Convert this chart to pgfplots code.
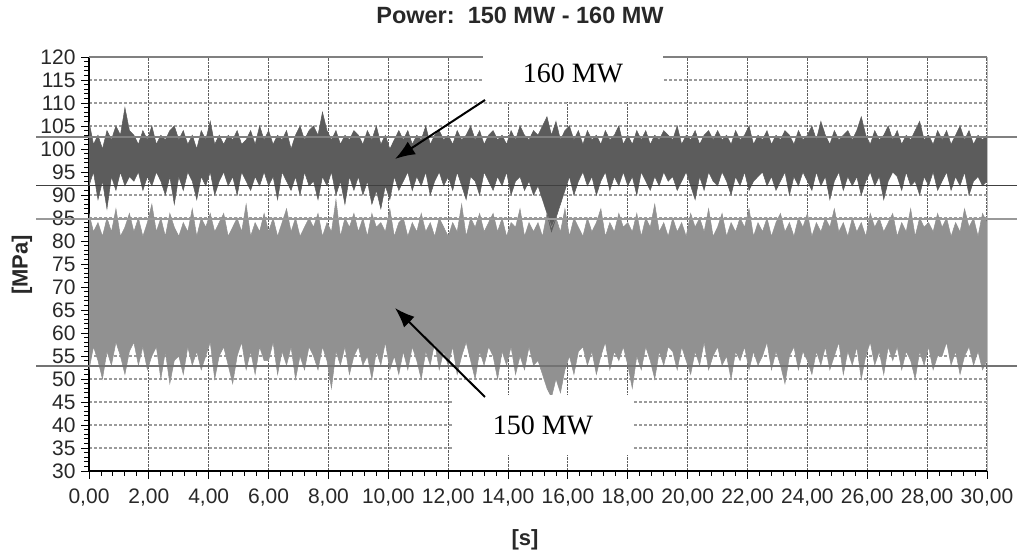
\documentclass[border=0pt]{standalone}
\usepackage{pgfplots}
\pgfplotsset{compat=1.18}
\usepackage{pgfplotstable}
\usepgfplotslibrary{fillbetween}
\usetikzlibrary{arrows.meta}
\usepackage{fontspec}
\setmainfont{Liberation Sans}
\newfontfamily\seriffont{Liberation Serif}
\definecolor{gA}{RGB}{145,145,145}
\definecolor{gB}{RGB}{92,92,92}
\definecolor{gridh}{RGB}{155,155,155}
\definecolor{gridv}{RGB}{95,95,95}
\definecolor{txt}{RGB}{40,40,40}

\pgfplotstableread{
t u1 l1 u2 l2
0.00 86 52 106 92
0.15 82 57 101 95
0.30 84 54 103 89
0.45 81 50 100 93
0.60 85 56 104 87
0.75 82 53 102 94
0.90 87 58 105 91
1.05 81 55 103 95
1.20 83 51 109 92
1.35 86 56 104 94
1.50 82 58 103 93
1.65 85 53 101 95
1.80 81 57 104 91
1.95 84 52 102 94
2.10 88 55 105 92
2.25 82 57 101 95
2.40 85 50 103 93
2.55 81 56 102 90
2.70 86 49 104 94
2.85 83 54 105 88
3.00 81 55 102 94
3.15 84 51 104 91
3.30 82 57 101 95
3.45 87 53 103 93
3.60 81 56 100 89
3.75 85 52 104 94
3.90 83 55 102 92
4.05 86 58 106 95
4.20 82 50 101 90
4.35 84 55 103 93
4.50 86 57 101 95
4.65 81 53 103 92
4.80 83 49 102 94
4.95 85 55 104 90
5.10 82 58 101 95
5.25 88 52 102 93
5.40 81 56 104 91
5.55 84 51 101 94
5.70 82 57 105 92
5.85 86 54 102 95
6.00 82 54 104 92
6.15 85 58 101 94
6.30 81 51 103 89
6.45 84 56 102 95
6.60 87 53 104 93
6.75 82 57 100 91
6.90 85 50 103 94
7.05 81 55 105 90
7.20 83 52 102 95
7.35 85 57 104 92
7.50 83 55 105 93
7.65 86 52 103 89
7.80 81 57 108 94
7.95 84 54 104 92
8.10 82 48 102 95
8.25 89 56 104 90
8.40 81 53 101 93
8.55 85 57 103 88
8.70 83 51 102 94
8.85 86 55 104 91
9.00 82 57 103 94
9.15 85 53 101 90
9.30 81 55 104 93
9.45 86 50 102 88
9.60 83 56 105 91
9.75 84 53 101 87
9.90 82 58 103 92
10.05 87 52 100 89
10.20 81 55 102 94
10.35 84 51 104 91
10.50 85 56 102 93
10.65 81 52 104 95
10.80 84 57 101 91
10.95 82 54 103 94
11.10 86 50 102 92
11.25 82 56 105 95
11.40 84 53 101 90
11.55 81 58 103 93
11.70 85 52 104 95
11.85 83 56 102 92
12.00 81 53 103 94
12.15 84 57 101 91
12.30 82 51 104 95
12.45 88 55 102 92
12.60 81 58 103 89
12.75 85 54 105 94
12.90 83 50 102 93
13.05 86 56 104 90
13.20 82 53 101 95
13.35 84 57 103 93
13.50 86 55 104 91
13.65 82 50 102 94
13.80 85 56 103 92
13.95 81 53 101 95
14.10 84 57 104 90
14.25 83 51 102 93
14.40 87 55 105 94
14.55 81 52 103 91
14.70 84 57 102 93
14.85 82 53 104 90
15.00 84 54 103 92
15.15 81 51 105 89
15.30 86 48 107 86
15.45 83 46 103 82
15.60 85 50 106 85
15.75 82 47 102 88
15.90 87 52 104 91
16.05 81 55 105 94
16.20 85 51 102 90
16.35 83 56 104 93
16.50 81 57 101 95
16.65 85 53 104 92
16.80 82 56 102 94
16.95 84 51 103 90
17.10 87 55 101 93
17.25 81 58 104 95
17.40 84 52 102 91
17.55 82 56 103 94
17.70 86 54 105 92
17.85 83 57 101 95
18.00 84 53 103 92
18.15 82 48 101 94
18.30 86 55 104 90
18.45 81 52 102 95
18.60 85 57 104 93
18.75 83 54 101 91
18.90 88 50 103 94
19.05 82 56 102 92
19.20 84 53 104 95
19.35 81 57 103 93
19.50 85 56 102 94
19.65 82 52 105 91
19.80 84 57 101 93
19.95 81 54 103 95
20.10 86 51 102 92
20.25 83 56 104 89
20.40 85 53 101 94
20.55 82 58 103 91
20.70 87 52 104 95
20.85 81 55 102 93
21.00 83 57 104 92
21.15 86 53 102 95
21.30 81 55 103 93
21.45 84 50 101 90
21.60 82 56 104 94
21.75 85 54 102 92
21.90 83 57 103 95
22.05 87 52 105 91
22.20 81 56 101 93
22.35 84 53 103 94
22.50 82 55 102 95
22.65 85 58 104 92
22.80 81 52 101 94
22.95 84 56 103 91
23.10 86 53 102 93
23.25 82 49 104 95
23.40 84 55 103 90
23.55 81 57 101 94
23.70 85 52 104 92
23.85 83 56 102 95
24.00 86 54 103 93
24.15 81 51 105 91
24.30 84 56 102 95
24.45 82 53 106 92
24.60 85 57 103 94
24.75 83 52 101 89
24.90 87 55 104 93
25.05 82 58 102 95
25.20 84 51 103 91
25.35 81 56 104 94
25.50 85 53 102 92
25.65 82 57 104 94
25.80 84 50 107 90
25.95 81 55 103 93
26.10 86 58 101 95
26.25 83 53 104 92
26.40 85 56 102 94
26.55 82 51 103 89
26.70 84 57 105 93
26.85 86 54 102 95
27.00 81 57 104 94
27.15 84 52 101 91
27.30 82 56 103 95
27.45 87 54 102 92
27.60 81 50 104 93
27.75 85 56 106 90
27.90 83 53 102 94
28.05 84 57 103 92
28.20 82 52 101 95
28.35 86 55 104 91
28.50 83 55 102 93
28.65 85 58 104 95
28.80 81 53 101 91
28.95 84 56 103 94
29.10 82 51 105 92
29.25 87 55 102 95
29.40 83 57 104 90
29.55 85 53 101 93
29.70 81 56 103 94
29.85 86 52 102 92
30.00 84 54 103 93
}\sig

\begin{document}
\begin{tikzpicture}
\begin{axis}[
  at={(89pt,85pt)}, anchor=south west,
  scale only axis, width=898pt, height=414pt,
  xmin=0, xmax=30, ymin=30, ymax=120,
  xtick={0,2,...,30}, ytick={30,35,...,120},
  minor x tick num=4, minor y tick num=4,
  axis x line*=bottom, axis y line*=left,
  axis line style={black, line width=1.1pt},
  tick align=outside,
  major tick length=8pt, minor tick length=5pt,
  tick style={black, line width=0.9pt},
  xmajorgrids, ymajorgrids,
  x grid style={gridv, densely dotted, line width=1.1pt},
  y grid style={gridh, densely dashed, line width=1.1pt},
  ticklabel style={font=\fontsize{21}{22}\selectfont, text=txt},
  y tick label style={xshift=-2pt},
  x tick label style={yshift=-6pt},
  /pgf/number format/assume math mode=true,
  x tick label style={/pgf/number format/fixed, /pgf/number format/fixed zerofill, /pgf/number format/precision=2, /pgf/number format/use comma},
  clip=false,
]
\addplot[name path=u1, draw=gA, line width=0.5pt] table[x=t,y=u1]{\sig};
\addplot[name path=l1, draw=gA, line width=0.5pt] table[x=t,y=l1]{\sig};
\addplot[fill=gA, draw=none] fill between[of=u1 and l1];
\addplot[name path=u2, draw=gB, line width=0.5pt] table[x=t,y=u2]{\sig};
\addplot[name path=l2, draw=gB, line width=0.5pt] table[x=t,y=l2]{\sig};
\addplot[fill=gB, draw=none] fill between[of=u2 and l2];
\draw[gray, line width=1.1pt] (axis cs:0,120) -- (axis cs:30,120);
\draw[black!25, line width=1pt] (axis cs:30,30) -- (axis cs:30,120);
\draw[black!50, line width=1.4pt] (axis cs:-1.77,102.6) -- (axis cs:31,102.6);
\draw[black!75, line width=1.4pt] (axis cs:-1.77,92) -- (axis cs:31,92);
\draw[black!40, line width=1.4pt] (axis cs:-1.77,84.8) -- (axis cs:31,84.8);
\draw[black!55, line width=1.4pt] (axis cs:-1.77,52.8) -- (axis cs:31,52.8);
\end{axis}
\fill[white] (483pt,454pt) rectangle (663pt,512pt);
\node[font=\seriffont\fontsize{28}{30}\selectfont] at (573pt,483pt) {160 MW};
\fill[white] (453pt,101pt) rectangle (633pt,161pt);
\node[font=\seriffont\fontsize{28}{30}\selectfont] at (543pt,131pt) {150 MW};
\draw[line width=2pt, -{Latex[length=20pt,width=15pt]}] (485pt,456pt) -- (395pt,397pt);
\draw[line width=2pt, -{Latex[length=20pt,width=15pt]}] (485pt,159pt) -- (395pt,248pt);
\node[font=\bfseries\fontsize{23.5}{25}\selectfont, text=txt] at (520pt,541pt) {Power:\ \ 150 MW - 160 MW};
\node[font=\bfseries\fontsize{22}{24}\selectfont, text=txt] at (525pt,16pt) {[s]};
\node[rotate=90, font=\bfseries\fontsize{22}{24}\selectfont, text=txt] at (22pt,291pt) {[MPa]};
\pgfresetboundingbox
\useasboundingbox (0,0) rectangle (1018pt,556pt);
\end{tikzpicture}
\end{document}
